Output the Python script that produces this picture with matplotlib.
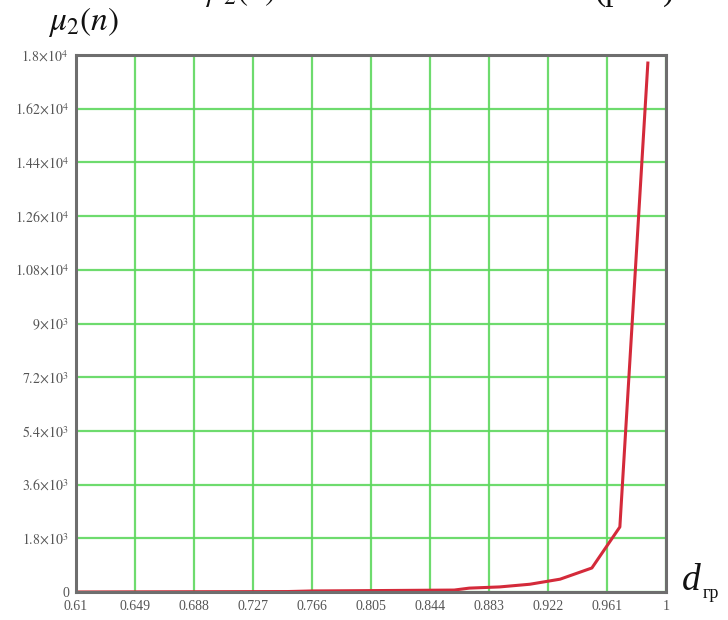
import matplotlib
matplotlib.use("Agg")
import matplotlib.pyplot as plt

# data
d_gr = [0.61, 0.65, 0.70, 0.75, 0.766, 0.80, 0.83, 0.86, 0.87, 0.89, 0.91, 0.93, 0.951, 0.9695, 0.988]
mu2 = [0, 5, 10, 15, 35, 45, 55, 65, 130, 170, 260, 430, 805, 2180, 17730]

x_ticks = [0.61, 0.649, 0.688, 0.727, 0.766, 0.805, 0.844, 0.883, 0.922, 0.961, 1.0]
x_tick_labels = ["0.61", "0.649", "0.688", "0.727", "0.766", "0.805", "0.844", "0.883", "0.922", "0.961", "1"]
y_ticks = [0, 1800, 3600, 5400, 7200, 9000, 10800, 12600, 14400, 16200, 18000]
y_tick_labels = ["0", r"$1.8\!\times\!10^{3}$", r"$3.6\!\times\!10^{3}$", r"$5.4\!\times\!10^{3}$",
                 r"$7.2\!\times\!10^{3}$", r"$9\!\times\!10^{3}$", r"$1.08\!\times\!10^{4}$",
                 r"$1.26\!\times\!10^{4}$", r"$1.44\!\times\!10^{4}$", r"$1.62\!\times\!10^{4}$",
                 r"$1.8\!\times\!10^{4}$"]

plt.rcParams['mathtext.fontset'] = 'stix'
plt.rcParams['font.family'] = ['Liberation Serif', 'DejaVu Serif']

fig = plt.figure(figsize=(7.28, 6.20), dpi=100)
ax = fig.add_axes([76/728, 1-592/620, (666-76)/728, (592-55)/620])

ax.plot(d_gr, mu2, color='#d42a3a', lw=2.2, solid_joinstyle='round', zorder=3)

ax.set_xlim(0.61, 1.0)
ax.set_ylim(0, 18000)
ax.set_xticks(x_ticks)
ax.set_xticklabels(x_tick_labels)
ax.set_yticks(y_ticks)
ax.set_yticklabels(y_tick_labels)
ax.tick_params(axis='y', length=0, labelsize=10, colors='#555555', pad=5)
ax.tick_params(axis='x', length=0, labelsize=10, colors='#555555', pad=6)
ax.grid(True, color='#5ed85e', lw=1.6, alpha=0.9)
ax.set_axisbelow(True)
for s in ax.spines.values():
    s.set_color('#6e6e6e')
    s.set_linewidth(2.2)
    s.set_zorder(4)

# axis titles
fig.text(48/728, 1-22/620, r"$\mu_2(n)$", fontsize=24, ha='left', va='center', color='#111111')
fig.text(682/728, 1-590/620, "d", fontsize=27, style='italic', ha='left', va='baseline', color='#111111')
fig.text(703/728, 1-598/620, "гр", fontsize=13, ha='left', va='baseline', color='#111111')

# clipped text from the page above
fig.text(205/728, 1+8/620, r"$\mu_2(n)$", fontsize=24, ha='left', va='center', color='#111111')
fig.text(595/728, 1+8/620, "(рис.)", fontsize=24, ha='left', va='center', color='#111111')

fig.savefig("out.png", dpi=100)
